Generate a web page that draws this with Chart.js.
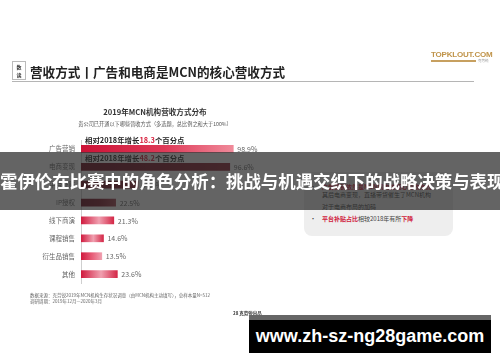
<!DOCTYPE html>
<html>
<head>
<meta charset="utf-8">
<script src="https://cdn.jsdelivr.net/npm/chart.js@4.4.0/dist/chart.umd.min.js"></script>
<style>
  body { margin: 0; width: 500px; height: 362px; background: #fff; overflow: hidden; position: relative;
         font-family: "Noto Sans CJK SC", "Noto Sans", sans-serif; }
  .abs { position: absolute; white-space: nowrap; }
  #chartBox { position: absolute; left: 0; top: 0; width: 500px; height: 362px; }
</style>
</head>
<body>
<div id="chartBox"><canvas id="revChart"></canvas></div>

<!-- header -->
<div class="abs" style="left:12px;top:61px;width:14px;height:19px;border:1px solid #bbb;font-size:5px;line-height:8px;text-align:center;color:#333;font-weight:bold;padding-top:1px;box-sizing:border-box;">数<br>读</div>
<div class="abs" style="left:30px;top:63px;font-size:12.6px;font-weight:bold;color:#222;line-height:18px;">营收方式丨广告和电商是MCN的核心营收方式</div>
<div class="abs" style="left:12px;top:81px;width:462px;height:1px;background:#b5b5b5;"></div>
<div class="abs" style="left:431px;top:50px;font-family:'Liberation Sans',Arial,sans-serif;font-size:8px;font-weight:bold;color:#c0944a;letter-spacing:-0.2px;">TOPKLOUT.COM</div>
<div class="abs" style="left:431px;top:60px;width:45px;height:2px;background:#c7a060;"></div>
<div class="abs" style="left:478px;top:58px;font-size:3.5px;color:#999;">克劳锐</div>

<!-- chart titles -->
<div class="abs" style="left:0;top:106px;width:310px;text-align:center;font-size:7.6px;font-weight:bold;color:#333;">2019年MCN机构营收方式分布</div>
<div class="abs" style="left:0;top:120px;width:310px;text-align:center;font-size:5.2px;color:#555;">贵公司已开通以下哪些营收方式（多选题，总比例之和大于100%）</div>

<!-- right note box -->
<div class="abs" style="left:304px;top:172px;width:149px;height:64px;background:#eeeeee;border-radius:8px;"></div>
<div class="abs" style="left:322px;top:182px;font-size:6px;color:#d0203c;font-weight:bold;">广告营销依然是MCN机构的核心营收方式</div>
<div class="abs" style="left:310px;top:182px;font-size:6px;color:#333;">•</div>
<div class="abs" style="left:322px;top:190px;font-size:6px;color:#444;">其后电商变现，直播带货催生了MCN机构</div>
<div class="abs" style="left:322px;top:202px;font-size:6px;color:#444;">对于电商布局的加码</div>
<div class="abs" style="left:310px;top:214px;font-size:6px;color:#333;">•</div>
<div class="abs" style="left:322px;top:214px;font-size:6px;color:#444;"><b style="color:#d0203c;">平台补贴占比</b>相较2018年有所<b style="color:#d0203c;">下降</b></div>

<!-- footer -->
<div class="abs" style="left:30px;top:292px;font-size:4.5px;color:#666;line-height:6px;">数据来源：克劳锐2019年MCN机构生存状况调查（由MCN机构主动填写），总样本量N=512<br>调研周期：2019年12月—2020年3月</div>
<div class="abs" style="left:233px;top:310px;font-size:4.5px;color:#333;font-weight:bold;">28 克劳锐出品</div>

<!-- overlays -->
<div class="abs" style="left:0;top:152px;width:500px;height:58px;background:rgba(40,40,40,0.72);"></div>
<div class="abs" style="left:0;top:168px;width:500px;text-align:center;font-size:17.4px;font-weight:bold;color:#fff;line-height:26px;">霍伊伦在比赛中的角色分析：挑战与机遇交织下的战略决策与表现</div>
<div class="abs" style="left:249px;top:315px;width:242px;height:5px;background:#666;"></div>
<div class="abs" style="left:249px;top:320px;width:242px;height:33px;background:#000;"></div>
<div class="abs" style="left:249px;top:325px;width:242px;text-align:center;font-family:'Liberation Sans',Arial,sans-serif;font-size:18px;font-weight:bold;color:#fff;line-height:22px;">www.zh-sz-ng28game.com</div>

<script>
// data
const categories = ["广告营销", "电商变现", "平台补贴", "IP授权", "线下商演", "课程销售", "衍生品销售", "其他"];
const shares = [98.9, 96.6, 37.0, 22.5, 21.3, 14.6, 13.5, 23.6];
const growthNotes = ["18.3", "48.2"];

// bar gradient stops per row: [left, middle, right]
const barStops = [
  ["#cc1236", "#de3a58", "#f08a9a"],
  ["#6a0a1c", "#7c1426", "#8e2232"],
  ["#6a0a1c", "#7c1426", "#8e2232"],
  ["#66081a", "#7c1628", "#a4404e"],
  ["#d01a3e", "#f0a0b0", "#d42848"],
  ["#d01a3e", "#f0a0b0", "#d42848"],
  ["#d01a3e", "#e8607a", "#f0a0b0"],
  ["#d01a3e", "#f0a0b0", "#d42848"]
];

const barFill = (c) => {
  const chart = c.chart;
  const area = chart.chartArea;
  if (!area) return barStops[c.dataIndex][0];
  const x1 = chart.scales.x.getPixelForValue(shares[c.dataIndex]);
  const g = chart.ctx.createLinearGradient(area.left, 0, x1, 0);
  const s = barStops[c.dataIndex];
  g.addColorStop(0, s[0]);
  g.addColorStop(0.55, s[1]);
  g.addColorStop(1, s[2]);
  return g;
};

const labelPlugin = {
  id: "barLabels",
  afterDatasetsDraw(chart) {
    const ctx = chart.ctx;
    const meta = chart.getDatasetMeta(0);
    ctx.save();
    ctx.font = "7px 'Noto Sans CJK SC', sans-serif";
    ctx.fillStyle = "#666";
    ctx.textBaseline = "middle";
    meta.data.forEach((bar, i) => {
      ctx.fillText(shares[i].toFixed(1) + "%", bar.x + 4, bar.y + 0.5);
    });
    // growth notes above first two bars
    ctx.font = "bold 7.4px 'Noto Sans CJK SC', sans-serif";
    growthNotes.forEach((v, i) => {
      const bar = meta.data[i];
      let x = chart.chartArea.left + 4;
      const y = bar.y - 9;
      const parts = [["相对2018年增长", "#222"], [v, "#d8203e"], ["个百分点", "#222"]];
      parts.forEach(p => {
        ctx.fillStyle = p[1];
        ctx.fillText(p[0], x, y);
        x += ctx.measureText(p[0]).width;
      });
    });
    ctx.restore();
  }
};

new Chart(document.getElementById("revChart"), {
  type: "bar",
  data: {
    labels: categories,
    datasets: [{
      data: shares,
      backgroundColor: barFill,
      barThickness: 7,
      borderWidth: 0
    }]
  },
  options: {
    indexAxis: "y",
    responsive: true,
    maintainAspectRatio: false,
    animation: false,
    layout: { padding: { left: 0, top: 140, right: 265, bottom: 79 } },
    plugins: { legend: { display: false }, tooltip: { enabled: false } },
    scales: {
      x: { display: false, min: 0, max: 100 },
      y: {
        afterFit: (s) => { s.width = 81; },
        grid: { display: false, drawTicks: false },
        border: { color: "#cfcfcf", width: 1 },
        ticks: { color: "#666", padding: 6, font: { size: 6.5, family: "'Noto Sans CJK SC', sans-serif" } }
      }
    }
  },
  plugins: [labelPlugin]
});
</script>
</body>
</html>
